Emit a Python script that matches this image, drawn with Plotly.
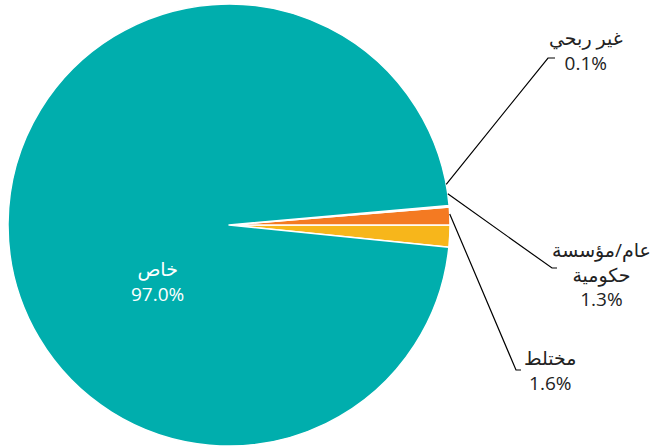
import math
import plotly.graph_objects as go

labels = ["مختلط", "عام/مؤسسة<br>حكومية", "غير ربحي", "خاص"]
values = [1.6, 1.3, 0.1, 97.0]
pct_text = ["1.6%", "1.3%", "0.1%", "97.0%"]
colors = ["#F7B61B", "#F47A22", "#E9E9E9", "#00AEAD"]

W, H = 656, 447
cx, cy, r = 229, 225, 221  # pie geometry in pixels (from domain)

fig = go.Figure(go.Pie(
    labels=labels, values=values, sort=False, direction="counterclockwise",
    rotation=90, textinfo="none", hoverinfo="label+percent",
    marker=dict(colors=colors, line=dict(color="white", width=1.5)),
    domain=dict(x=[(cx - r) / W, (cx + r) / W], y=[(H - cy - r) / H, (H - cy + r) / H]),
    showlegend=False,
))

def px(x):
    return x / W

def py(y):
    return 1 - y / H

# label positions (pixels): text centre, elbow point, tail end
label_layout = {
    0: dict(tx=550, ty=370, elbow=(516, 370), tail=(521, 370)),
    1: dict(tx=601, ty=274, elbow=(552, 268), tail=(557, 268)),
    2: dict(tx=586, ty=51, elbow=(548, 58), tail=(555, 58)),
}

total = sum(values)
cum = 0
shapes = []
annotations = []
for i, v in enumerate(values):
    a0 = cum / total * 360
    cum += v
    a1 = cum / total * 360
    mid = math.radians((a0 + a1) / 2)
    if i in label_layout:
        L = label_layout[i]
        sx = cx + r * math.cos(mid)
        sy = cy - r * math.sin(mid)
        ex, ey = L["elbow"]
        tx2, ty2 = L["tail"]
        shapes.append(dict(type="path", xref="paper", yref="paper",
                           path=f"M {px(sx)} {py(sy)} L {px(ex)} {py(ey)} L {px(tx2)} {py(ty2)}",
                           line=dict(color="black", width=1.2)))
        annotations.append(dict(x=px(L["tx"]), y=py(L["ty"]), xref="paper", yref="paper",
                                text=f"{labels[i]}<br>{pct_text[i]}", showarrow=False,
                                font=dict(size=19, color="#222222"), align="center",
                                xanchor="center", yanchor="middle"))
    else:
        annotations.append(dict(x=px(157), y=py(281), xref="paper", yref="paper",
                                text=f"{labels[i]}<br>{pct_text[i]}", showarrow=False,
                                font=dict(size=19, color="white"), align="center",
                                xanchor="center", yanchor="middle"))

fig.update_layout(
    width=W, height=H, margin=dict(l=0, r=0, t=0, b=0),
    paper_bgcolor="white", plot_bgcolor="white",
    font=dict(family="Open Sans, DejaVu Sans, sans-serif"),
    shapes=shapes, annotations=annotations,
)

fig.write_html("out.html", config={"displayModeBar": False},
               post_script="document.body.style.margin='0';")
